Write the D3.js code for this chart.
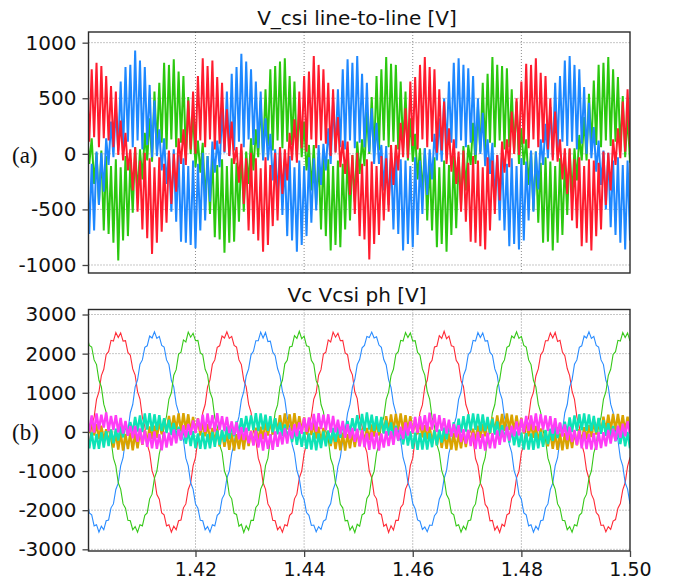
<!DOCTYPE html>
<html>
<head>
<meta charset="utf-8">
<script src="https://cdn.jsdelivr.net/npm/d3@7"></script>
<style>
  body { margin: 0; background: #fff; }
  svg { display: block; }
  text { font-family: "DejaVu Sans", Verdana, sans-serif; fill: #111; }
</style>
</head>
<body>
<svg id="chart" width="673" height="579"></svg>
<script>
// sample times: first sample and spacing (s)
var sampleStart = 1.4, sampleStep = 0.02 / 45;

var xTicks = [1.42, 1.44, 1.46, 1.48, 1.50];
var yTicksA = [-1000, -500, 0, 500, 1000];
var yTicksB = [-3000, -2000, -1000, 0, 1000, 2000, 3000];

// (a) line-to-line voltages
var llRed = [640,110,760,150,820,60,790,140,700,120,
  610,60,560,-10,300,-60,190,-150,40,-330,
  60,-520,-60,-680,10,-760,-40,-900,-120,-800,
  -30,-700,-90,-620,30,-450,0,-340,140,-90,
  220,-100,480,40,560,0,700,120,860,60,
  790,130,840,40,690,90,640,20,400,-20,
  290,-90,60,-260,90,-450,-40,-690,10,-720,
  -40,-780,-130,-880,-30,-820,-100,-650,10,-600,
  60,-360,40,-240,190,-60,310,-80,560,50,
  700,20,740,130,880,50,800,120,760,90,
  640,-20,580,10,330,-120,120,-180,110,-370,
  -10,-540,10,-740,-90,-770,-50,-950,-70,-810,
  -110,-730,-20,-600,-40,-520,80,-280,80,-150,
  280,-30,410,-40,650,70,690,40,800,130,
  870,60,780,110,760,10,580,30,470,-90,
  230,-160,130,-270,20,-520,30,-610,-80,-790,
  -20,-800,-60,-830,-120,-860,-30,-690,-60,-540,
  -10,-420,110,-170,130,-120,380,0,500,-10,
  650,90,810,50,800,130,860,60,730,100,
  700,40,500,-60,380,-70,130,-230,50,-360,
  50,-600,-50,-670,-30,-830,-110,-800,-50,-870,
  -60,-740,-80,-680,20,-460,10,-330,130,-100,
  230,-40,470,20,580,60];

var llGreen = [220,-90,140,-270,10,-450,30,-690,-20,-720,
  -110,-800,-50,-960,-120,-780,-20,-740,-70,-530,
  60,-370,40,-230,190,-60,320,-70,560,40,
  640,100,820,40,800,130,850,60,740,100,
  700,-20,510,0,380,-120,120,-170,100,-430,
  -20,-540,0,-750,-100,-770,-50,-890,-110,-800,
  -40,-790,-80,-610,30,-520,20,-270,140,-150,
  220,-30,480,-40,580,70,760,30,790,120,
  830,50,860,110,700,80,650,-30,420,-30,
  290,-150,80,-330,80,-460,-30,-680,0,-740,
  -50,-870,-110,-820,-60,-840,-90,-680,10,-600,
  -10,-430,110,-180,130,-110,380,0,510,-20,
  700,30,760,120,870,60,810,110,800,40,
  650,50,560,-60,320,-70,180,-230,50,-370,
  50,-600,-60,-690,-30,-840,-120,-810,-60,-880,
  -100,-730,-20,-670,-30,-470,70,-330,80,-100,
  280,-90,420,20,640,10,720,100,870,60,
  800,120,790,40,770,60,580,20,470,-90,
  230,-100,130,-280,20,-510,20,-620,-80,-800,
  -30,-790,-70,-870,-110,-800,-40,-730,-60,-550,
  40,-380,50,-240,170,-60,330,-60,540,40,
  660,80,800,60,820,120,870,70,760,110,
  690,20,520,-30,350,-80];

var llBlue = [-40,-720,-90,-690,20,-460,10,-340,140,-100,
  290,-30,410,30,650,0,780,110,800,60,
  930,120,840,40,780,80,620,-30,480,-20,
  220,-150,140,-270,20,-520,40,-610,-10,-790,
  -40,-800,-110,-820,-60,-850,-90,-690,10,-600,
  -20,-430,110,-170,120,-120,390,10,560,-20,
  720,30,780,110,900,60,830,130,760,80,
  650,50,560,-60,320,-60,180,-240,40,-380,
  60,-550,-50,-740,-20,-780,-120,-880,-60,-820,
  -110,-740,-30,-620,-40,-510,80,-280,90,-150,
  230,-90,470,20,580,60,760,40,850,120,
  820,50,880,100,720,60,640,20,410,-90,
  280,-90,80,-330,70,-460,-30,-680,20,-720,
  -50,-870,-60,-810,-110,-840,-30,-730,-60,-540,
  50,-370,40,-230,180,-60,320,-70,500,50,
  650,100,820,50,860,120,800,60,770,100,
  700,-10,500,0,370,-110,130,-180,100,-420,
  -10,-600,0,-690,-90,-830,-40,-810,-110,-860,
  -40,-780,-70,-600,30,-520,20,-320,130,-100,
  270,-40,420,-30,640,30,700,110,840,70,
  880,110,800,40,760,90,600,0,460,-40,
  240,-160,120,-280,30,-500,10,-660,-60,-730,
  -30,-800,-100,-860,-60,-780];

// (b) capacitor phase voltages (thin)
var vcRed = [-540,-320,160,380,830,1020,1440,1600,1980,2050,
  2340,2320,2540,2410,2530,2320,2330,2030,1960,1610,
  1450,1030,840,370,140,-320,-530,-990,-1180,-1600,
  -1720,-2070,-2120,-2400,-2370,-2560,-2410,-2500,-2270,-2250,
  -1940,-1840,-1470,-1310,-870,-660,-190,30,490,700,
  1150,1330,1730,1840,2160,2200,2450,2400,2560,2390,
  2440,2210,2170,1840,1720,1320,1150,710,500,30,
  -200,-670,-870,-1300,-1460,-1840,-1950,-2260,-2270,-2500,
  -2420,-2560,-2370,-2400,-2130,-2070,-1710,-1590,-1180,-1000,
  -560,-300,150,400,840,1000,1450,1590,1990,2040,
  2350,2300,2550,2420,2520,2330,2340,2020,1970,1600,
  1460,1020,850,360,150,-330,-520,-1000,-1170,-1610,
  -1710,-2080,-2110,-2410,-2360,-2570,-2400,-2510,-2260,-2260,
  -1930,-1850,-1460,-1320,-860,-670,-180,20,500,690,
  1160,1320,1740,1830,2170,2190,2460,2390,2570,2380,
  2450,2200,2180,1830,1730,1310,1160,700,510,20,
  -190,-680,-860,-1310,-1450,-1850,-1940,-2270,-2260,-2510,
  -2410,-2570,-2360,-2410,-2120,-2080,-1700,-1600,-1170,-1010,
  -530,-330,170,370,840,1010,1430,1610,1970,2060,
  2330,2330,2530,2400,2540,2310,2340,2040,1950,1620,
  1440,1040,830,380,130,-310,-540,-980,-1190,-1590,
  -1730,-2060,-2130,-2390,-2380,-2550,-2420,-2490,-2280,-2240,
  -1950,-1830,-1480,-1300,-880,-650];

var vcBlue = [-1720,-2070,-2120,-2400,-2370,-2560,-2410,-2500,-2270,-2250,
  -1940,-1840,-1470,-1310,-870,-660,-190,30,490,700,
  1150,1330,1730,1840,2160,2200,2450,2400,2560,2390,
  2440,2210,2170,1840,1720,1320,1150,710,500,30,
  -200,-670,-870,-1300,-1460,-1840,-1950,-2260,-2270,-2500,
  -2420,-2560,-2370,-2400,-2130,-2070,-1710,-1590,-1180,-1000,
  -550,-310,150,390,820,1030,1430,1610,1970,2060,
  2330,2330,2550,2400,2540,2310,2320,2040,1950,1620,
  1440,1040,830,380,130,-310,-540,-980,-1190,-1590,
  -1730,-2060,-2130,-2390,-2380,-2550,-2420,-2490,-2280,-2240,
  -1950,-1830,-1480,-1300,-880,-650,-200,40,480,710,
  1140,1340,1720,1850,2150,2210,2440,2410,2550,2400,
  2430,2220,2160,1850,1710,1330,1140,720,490,40,
  -210,-660,-880,-1290,-1470,-1830,-1960,-2250,-2280,-2490,
  -2430,-2550,-2380,-2390,-2140,-2060,-1720,-1580,-1190,-990,
  -540,-320,160,380,830,1020,1440,1600,1980,2050,
  2340,2320,2540,2410,2530,2320,2330,2030,1960,1610,
  1450,1030,840,370,140,-320,-530,-990,-1180,-1600,
  -1720,-2070,-2120,-2400,-2370,-2560,-2410,-2500,-2270,-2250,
  -1940,-1840,-1470,-1310,-870,-660,-190,30,490,700,
  1150,1330,1730,1840,2160,2200,2450,2400,2560,2390,
  2440,2210,2170,1840,1720,1320,1150,710,500,30,
  -200,-670,-870,-1300,-1460,-1840];

var vcGreen = [2440,2210,2170,1840,1720,1320,1150,710,500,30,
  -200,-670,-870,-1300,-1460,-1840,-1950,-2260,-2270,-2500,
  -2420,-2560,-2370,-2400,-2130,-2070,-1710,-1590,-1180,-1000,
  -560,-300,150,400,840,1000,1450,1590,1990,2040,
  2350,2300,2550,2420,2520,2330,2340,2020,1970,1600,
  1460,1020,850,360,150,-330,-520,-1000,-1170,-1610,
  -1710,-2080,-2110,-2410,-2360,-2570,-2400,-2510,-2260,-2260,
  -1930,-1850,-1460,-1320,-860,-670,-180,20,500,690,
  1160,1320,1740,1830,2170,2190,2460,2390,2570,2380,
  2450,2200,2180,1830,1730,1310,1160,700,510,20,
  -190,-680,-860,-1310,-1450,-1850,-1940,-2270,-2260,-2510,
  -2410,-2570,-2360,-2410,-2120,-2080,-1700,-1600,-1170,-1010,
  -540,-320,160,380,830,1020,1440,1600,1980,2050,
  2340,2320,2540,2410,2530,2320,2330,2030,1960,1610,
  1450,1030,840,370,140,-320,-530,-990,-1180,-1600,
  -1720,-2070,-2120,-2400,-2370,-2560,-2410,-2500,-2270,-2250,
  -1940,-1840,-1470,-1310,-870,-660,-190,30,490,700,
  1150,1330,1730,1840,2160,2200,2450,2400,2560,2390,
  2440,2210,2170,1840,1720,1320,1150,710,500,30,
  -200,-670,-870,-1300,-1460,-1840,-1950,-2260,-2270,-2500,
  -2420,-2560,-2370,-2400,-2130,-2070,-1710,-1590,-1180,-1000,
  -540,-320,160,380,830,1020,1440,1600,1980,2050,
  2340,2320,2540,2410,2530,2320];

// (b) csi phase voltages (thick)
var csiMagenta = [350,10,420,-20,470,60,440,110,500,20,
  410,50,430,-10,360,-40,280,-100,150,-160,
  150,-250,90,-320,40,-380,-30,-420,10,-430,
  -60,-470,0,-400,-20,-350,60,-290,70,-210,
  170,-140,200,-80,290,-20,340,30,440,0,
  470,70,430,10,480,50,400,20,380,-30,
  270,-80,250,-190,120,-210,110,-290,20,-350,
  30,-400,-50,-480,-10,-430,-60,-460,10,-380,
  0,-320,90,-300,100,-170,200,-110,240,-50,
  360,0,370,40,460,10,480,70,440,50,
  450,-20,410,-10,310,-60,280,-150,200,-170,
  100,-250,80,-370,50,-390,-40,-460,-10,-440,
  -20,-480,-40,-400,20,-360,20,-330,110,-220,
  130,-180,240,-90,270,-30,380,-20,400,40,
  430,20,490,60,460,0,430,30,350,-40,
  310,-120,200,-140,170,-260,70,-300,50,-360,
  -20,-440,0,-430,-60,-480,-20,-420,-30,-420,
  40,-330,50,-260,130,-220,160,-110,270,-90,
  340,-10,410,30,420,50,470,20,450,60,
  420,30,400,-40,350,-60,240,-120,190,-210,
  130,-260,50,-330,30,-420,0,-440,-50,-450,
  -30,-460,-10,-410,-10,-370,50,-300,80,-230,
  160,-150,210,-110,270,-40];

var csiCyan = [-30,-420,-10,-440,-50,-430,-10,-400,20,-360,
  60,-290,80,-220,160,-140,240,-80,250,-30,
  380,10,420,0,470,60,480,20,450,50,
  430,20,350,-30,310,-80,230,-140,130,-220,
  110,-300,20,-360,20,-410,-40,-430,-20,-440,
  -50,-420,0,-380,30,-330,50,-260,140,-180,
  170,-110,270,-60,350,-10,410,30,420,50,
  480,20,470,60,440,30,400,-10,350,-60,
  240,-110,190,-180,100,-260,80,-330,30,-380,
  0,-430,-40,-450,-20,-470,-40,-410,10,-370,
  30,-300,100,-250,130,-150,230,-90,280,-40,
  350,20,430,40,460,20,500,60,440,30,
  400,0,380,-40,290,-90,240,-170,160,-230,
  80,-320,50,-350,10,-430,-20,-460,-30,-450,
  -20,-450,-30,-390,40,-340,60,-270,110,-190,
  190,-120,250,-70,340,-20,400,10,450,40,
  470,50,460,20,450,20,380,-20,340,-70,
  270,-120,170,-210,130,-270,70,-340,10,-390,
  -20,-450,-30,-450,-40,-460,-20,-420,0,-380,
  50,-310,80,-230,150,-160,220,-100,260,-50,
  370,0,420,30,450,40,470,30,450,20,
  410,-10,360,-50,300,-100,220,-160,150,-240,
  90,-310,40,-370,0,-420];

var csiGold = [340,-30,310,-90,200,-180,160,-220,70,-300,
  60,-400,-20,-450,-10,-480,-50,-440,-20,-470,
  -40,-420,30,-330,50,-290,140,-180,160,-150,
  280,-60,310,-10,410,30,420,50,470,20,
  480,50,450,-10,380,-20,350,-90,240,-110,
  200,-220,100,-260,80,-370,0,-380,-30,-460,
  -20,-480,-60,-440,-10,-450,20,-360,30,-330,
  110,-220,130,-180,240,-90,280,-70,350,10,
  430,0,470,60,450,20,480,40,400,10,
  370,-70,280,-80,240,-170,130,-260,100,-290,
  30,-360,20,-440,-40,-470,-20,-480,-50,-420,
  0,-390,40,-360,80,-260,100,-210,190,-120,
  250,-90,350,-20,400,20,450,10,460,60,
  470,20,430,30,400,-40,320,-60,270,-140,
  170,-190,130,-290,50,-340,30,-410,-20,-430,
  -40,-450,-30,-470,-40,-420,10,-390,50,-300,
  80,-250,160,-150,210,-110,270,-40,370,-20,
  420,30,460,30,470,50,440,10,420,0,
  360,-40,300,-110,220,-150,150,-250,90,-320,
  40,-370,10,-430,-30,-460,-40,-470,-30,-440,
  -20,-410,20,-340,70,-280,120,-190,170,-130,
  260,-70,340,-30,390,10,440,30,460,40,
  460,30,430,10,390,-30];

var svg = d3.select('#chart');
var m = {l: 88.5, r: 630};
var tickFont = '"DejaVu Sans", Verdana, sans-serif';

var x = d3.scaleLinear().domain([1.4003, 1.5]).range([m.l, m.r]);

var panels = [
	{
		id: 'a', top: 32, bottom: 273, domain: [-1072, 1096], ticks: yTicksA,
		title: 'V_csi line-to-line [V]', titleY: 25, tag: '(a)', tagY: 163, xLabels: false,
		series: [
			{v: llGreen, c: '#2bc80f', w: 2},
			{v: llBlue, c: '#1e88ff', w: 2},
			{v: llRed, c: '#ff1c2e', w: 2}
		]
	},
	{
		id: 'b', top: 309.5, bottom: 551, domain: [-3043, 3128], ticks: yTicksB,
		title: 'Vc Vcsi ph [V]', titleY: 301.5, tag: '(b)', tagY: 440, xLabels: true,
		series: [
			{v: vcRed, c: '#ff2a36', w: 1.1},
			{v: vcBlue, c: '#2a8cff', w: 1.1},
			{v: vcGreen, c: '#36c818', w: 1.1},
			{v: csiGold, c: '#d9a300', w: 2.4},
			{v: csiCyan, c: '#0ee3b6', w: 2.4},
			{v: csiMagenta, c: '#ff3cf6', w: 2.4}
		]
	}
];

panels.forEach(function(p) {
	var y = d3.scaleLinear().domain(p.domain).range([p.bottom, p.top]);
	var g = svg.append('g').attr('class', 'panel-' + p.id);

	g.append('clipPath').attr('id', 'clip-' + p.id)
		.append('rect')
		.attr('x', m.l).attr('y', p.top)
		.attr('width', m.r - m.l).attr('height', p.bottom - p.top);

	// dotted grid
	g.selectAll('.hgrid').data(p.ticks).enter().append('line')
		.attr('x1', m.l).attr('x2', m.r)
		.attr('y1', function(d) { return y(d); })
		.attr('y2', function(d) { return y(d); })
		.attr('stroke', '#8c8c8c').attr('stroke-width', 1)
		.attr('stroke-dasharray', '1,2');
	g.selectAll('.vgrid').data(xTicks.slice(0, 4)).enter().append('line')
		.attr('x1', function(d) { return x(d); })
		.attr('x2', function(d) { return x(d); })
		.attr('y1', p.top).attr('y2', p.bottom)
		.attr('stroke', '#8c8c8c').attr('stroke-width', 1)
		.attr('stroke-dasharray', '1,2');

	var line = d3.line()
		.x(function(d, i) { return x(sampleStart + i * sampleStep); })
		.y(function(d) { return y(d); });

	var plot = g.append('g').attr('clip-path', 'url(#clip-' + p.id + ')');
	p.series.forEach(function(s) {
		plot.append('path')
			.attr('d', line(s.v))
			.attr('fill', 'none')
			.attr('stroke', s.c)
			.attr('stroke-width', s.w)
			.attr('stroke-linejoin', 'miter');
	});

	// frame
	g.append('rect')
		.attr('x', m.l).attr('y', p.top)
		.attr('width', m.r - m.l).attr('height', p.bottom - p.top)
		.attr('fill', 'none').attr('stroke', '#2a2a2a').attr('stroke-width', 1.4);

	var yAxis = g.append('g')
		.attr('transform', 'translate(' + m.l + ',0)')
		.call(d3.axisLeft(y).tickValues(p.ticks).tickSize(6).tickPadding(6)
			.tickFormat(function(d) { return String(d); }));
	yAxis.select('.domain').remove();
	yAxis.selectAll('line').attr('stroke', '#444').attr('stroke-width', 1.3);
	yAxis.selectAll('text').attr('font-size', 20).attr('fill', '#111')
		.style('font-family', tickFont);

	if (p.xLabels) {
		var xAxis = g.append('g')
			.attr('transform', 'translate(0,' + p.bottom + ')')
			.call(d3.axisBottom(x).tickValues(xTicks).tickFormat(d3.format('.2f')).tickSize(6).tickPadding(6));
		xAxis.select('.domain').remove();
		xAxis.selectAll('line').attr('stroke', '#444').attr('stroke-width', 1.3);
		xAxis.selectAll('text').attr('font-size', 19).attr('fill', '#111')
			.style('font-family', tickFont);
	}

	g.append('text')
		.attr('x', 357).attr('y', p.titleY)
		.attr('text-anchor', 'middle')
		.attr('font-size', 20)
		.text(p.title);

	g.append('text')
		.attr('x', 12).attr('y', p.tagY)
		.attr('font-size', 23)
		.style('font-family', '"Liberation Serif", "Times New Roman", serif')
		.text(p.tag);
});
</script>
</body>
</html>
